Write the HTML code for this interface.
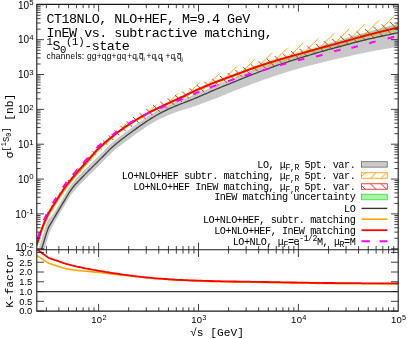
<!DOCTYPE html><html><head><meta charset="utf-8"><title>plot</title><style>html,body{margin:0;padding:0;background:#fff}svg{display:block}.tx{filter:grayscale(1)}text{font-family:"Liberation Mono",monospace;fill:#000}.s{font-family:"Liberation Sans",sans-serif}</style></head><body>
<svg width="407" height="339" viewBox="0 0 407 339">
<rect width="407" height="339" fill="#fff"/>
<defs>
<clipPath id="cm"><rect x="36.8" y="4.4" width="361.4" height="245.4"/></clipPath>
<clipPath id="cr"><rect x="36.8" y="249.8" width="361.4" height="61.30000000000001"/></clipPath>
<path id="ho" d="M-215.10,251.80 L34.30,2.40 M-204.43,251.80 L44.97,2.40 M-193.77,251.80 L55.64,2.40 M-183.10,251.80 L66.30,2.40 M-172.43,251.80 L76.97,2.40 M-161.76,251.80 L87.64,2.40 M-151.10,251.80 L98.30,2.40 M-140.43,251.80 L108.97,2.40 M-129.76,251.80 L119.64,2.40 M-119.10,251.80 L130.30,2.40 M-108.43,251.80 L140.97,2.40 M-97.76,251.80 L151.64,2.40 M-87.09,251.80 L162.31,2.40 M-76.43,251.80 L172.97,2.40 M-65.76,251.80 L183.64,2.40 M-55.09,251.80 L194.31,2.40 M-44.43,251.80 L204.97,2.40 M-33.76,251.80 L215.64,2.40 M-23.09,251.80 L226.31,2.40 M-12.43,251.80 L236.97,2.40 M-1.76,251.80 L247.64,2.40 M8.91,251.80 L258.31,2.40 M19.57,251.80 L268.98,2.40 M30.24,251.80 L279.64,2.40 M40.91,251.80 L290.31,2.40 M51.58,251.80 L300.98,2.40 M62.24,251.80 L311.64,2.40 M72.91,251.80 L322.31,2.40 M83.58,251.80 L332.98,2.40 M94.24,251.80 L343.64,2.40 M104.91,251.80 L354.31,2.40 M115.58,251.80 L364.98,2.40 M126.24,251.80 L375.64,2.40 M136.91,251.80 L386.31,2.40 M147.58,251.80 L396.98,2.40 M158.25,251.80 L407.65,2.40 M168.91,251.80 L418.31,2.40 M179.58,251.80 L428.98,2.40 M190.25,251.80 L439.65,2.40 M200.91,251.80 L450.31,2.40 M211.58,251.80 L460.98,2.40 M222.25,251.80 L471.65,2.40 M232.91,251.80 L482.31,2.40 M243.58,251.80 L492.98,2.40 M254.25,251.80 L503.65,2.40 M264.92,251.80 L514.32,2.40 M275.58,251.80 L524.98,2.40 M286.25,251.80 L535.65,2.40 M296.92,251.80 L546.32,2.40 M307.58,251.80 L556.98,2.40 M318.25,251.80 L567.65,2.40 M328.92,251.80 L578.32,2.40 M339.58,251.80 L588.98,2.40 M350.25,251.80 L599.65,2.40 M360.92,251.80 L610.32,2.40 M371.59,251.80 L620.99,2.40 M382.25,251.80 L631.65,2.40 M392.92,251.80 L642.32,2.40 M403.59,251.80 L652.99,2.40" stroke="#ffa500" stroke-width="0.95" fill="none"/>
<path id="hr" d="M-216.31,2.40 L33.09,251.80 M-205.64,2.40 L43.76,251.80 M-194.97,2.40 L54.43,251.80 M-184.31,2.40 L65.09,251.80 M-173.64,2.40 L75.76,251.80 M-162.97,2.40 L86.43,251.80 M-152.30,2.40 L97.10,251.80 M-141.64,2.40 L107.76,251.80 M-130.97,2.40 L118.43,251.80 M-120.30,2.40 L129.10,251.80 M-109.64,2.40 L139.76,251.80 M-98.97,2.40 L150.43,251.80 M-88.30,2.40 L161.10,251.80 M-77.64,2.40 L171.76,251.80 M-66.97,2.40 L182.43,251.80 M-56.30,2.40 L193.10,251.80 M-45.63,2.40 L203.77,251.80 M-34.97,2.40 L214.43,251.80 M-24.30,2.40 L225.10,251.80 M-13.63,2.40 L235.77,251.80 M-2.97,2.40 L246.43,251.80 M7.70,2.40 L257.10,251.80 M18.37,2.40 L267.77,251.80 M29.03,2.40 L278.43,251.80 M39.70,2.40 L289.10,251.80 M50.37,2.40 L299.77,251.80 M61.04,2.40 L310.44,251.80 M71.70,2.40 L321.10,251.80 M82.37,2.40 L331.77,251.80 M93.04,2.40 L342.44,251.80 M103.70,2.40 L353.10,251.80 M114.37,2.40 L363.77,251.80 M125.04,2.40 L374.44,251.80 M135.70,2.40 L385.10,251.80 M146.37,2.40 L395.77,251.80 M157.04,2.40 L406.44,251.80 M167.71,2.40 L417.11,251.80 M178.37,2.40 L427.77,251.80 M189.04,2.40 L438.44,251.80 M199.71,2.40 L449.11,251.80 M210.37,2.40 L459.77,251.80 M221.04,2.40 L470.44,251.80 M231.71,2.40 L481.11,251.80 M242.37,2.40 L491.77,251.80 M253.04,2.40 L502.44,251.80 M263.71,2.40 L513.11,251.80 M274.38,2.40 L523.78,251.80 M285.04,2.40 L534.44,251.80 M295.71,2.40 L545.11,251.80 M306.38,2.40 L555.78,251.80 M317.04,2.40 L566.44,251.80 M327.71,2.40 L577.11,251.80 M338.38,2.40 L587.78,251.80 M349.04,2.40 L598.44,251.80 M359.71,2.40 L609.11,251.80 M370.38,2.40 L619.78,251.80 M381.04,2.40 L630.44,251.80 M391.71,2.40 L641.11,251.80 M402.38,2.40 L651.78,251.80" stroke="#ff2a2a" stroke-width="1.0" fill="none"/>
<clipPath id="co"><path d="M36.8,243.3 L38.8,236.5 L40.8,230.3 L42.8,224.6 L44.8,219.6 L46.8,215.1 L48.8,211.1 L50.9,207.5 L52.9,204.3 L54.9,201.2 L56.9,198.0 L58.9,194.8 L60.9,191.7 L62.9,188.7 L64.9,185.8 L66.9,183.1 L68.9,180.6 L70.9,178.1 L72.9,175.6 L74.9,173.3 L77.0,170.9 L79.0,168.6 L81.0,166.3 L83.0,164.1 L85.0,161.9 L87.0,159.7 L89.0,157.5 L91.0,155.2 L93.0,152.9 L95.0,150.6 L97.0,148.4 L99.0,146.4 L101.0,144.5 L103.1,142.7 L105.1,140.9 L107.1,139.2 L109.1,137.6 L111.1,135.8 L113.1,134.0 L115.1,132.3 L117.1,130.6 L119.1,128.9 L121.1,127.3 L123.1,125.7 L125.1,124.2 L127.1,122.7 L129.2,121.2 L131.2,119.8 L133.2,118.4 L135.2,117.0 L137.2,115.7 L139.2,114.3 L141.2,113.1 L143.2,111.8 L145.2,110.6 L147.2,109.4 L149.2,108.2 L151.2,107.1 L153.3,106.0 L155.3,104.9 L157.3,103.8 L159.3,102.7 L161.3,101.7 L163.3,100.7 L165.3,99.6 L167.3,98.6 L169.3,97.6 L171.3,96.6 L173.3,95.6 L175.3,94.6 L177.3,93.6 L179.4,92.6 L181.4,91.5 L183.4,90.5 L185.4,89.5 L187.4,88.5 L189.4,87.4 L191.4,86.4 L193.4,85.4 L195.4,84.4 L197.4,83.4 L199.4,82.4 L201.4,81.5 L203.4,80.5 L205.5,79.6 L207.5,78.7 L209.5,77.8 L211.5,76.9 L213.5,76.0 L215.5,75.2 L217.5,74.3 L219.5,73.5 L221.5,72.6 L223.5,71.8 L225.5,71.0 L227.5,70.2 L229.5,69.4 L231.6,68.5 L233.6,67.7 L235.6,66.9 L237.6,66.1 L239.6,65.3 L241.6,64.4 L243.6,63.6 L245.6,62.8 L247.6,62.0 L249.6,61.2 L251.6,60.4 L253.6,59.6 L255.6,58.9 L257.7,58.1 L259.7,57.3 L261.7,56.6 L263.7,55.9 L265.7,55.1 L267.7,54.4 L269.7,53.7 L271.7,53.0 L273.7,52.3 L275.7,51.7 L277.7,51.0 L279.7,50.3 L281.7,49.7 L283.8,49.0 L285.8,48.4 L287.8,47.8 L289.8,47.1 L291.8,46.5 L293.8,45.9 L295.8,45.3 L297.8,44.6 L299.8,44.0 L301.8,43.4 L303.8,42.8 L305.8,42.2 L307.9,41.5 L309.9,40.9 L311.9,40.3 L313.9,39.7 L315.9,39.0 L317.9,38.4 L319.9,37.8 L321.9,37.2 L323.9,36.6 L325.9,36.0 L327.9,35.4 L329.9,34.8 L331.9,34.2 L334.0,33.6 L336.0,33.0 L338.0,32.4 L340.0,31.8 L342.0,31.2 L344.0,30.6 L346.0,30.0 L348.0,29.4 L350.0,28.8 L352.0,28.1 L354.0,27.5 L356.0,26.9 L358.0,26.3 L360.1,25.7 L362.1,25.1 L364.1,24.5 L366.1,23.9 L368.1,23.3 L370.1,22.7 L372.1,22.1 L374.1,21.5 L376.1,21.0 L378.1,20.4 L380.1,19.9 L382.1,19.3 L384.1,18.8 L386.2,18.2 L388.2,17.7 L390.2,17.2 L392.2,16.7 L394.2,16.2 L396.2,15.6 L398.2,15.1 L398.2,32.5 L396.2,32.9 L394.2,33.4 L392.2,33.8 L390.2,34.3 L388.2,34.7 L386.2,35.2 L384.1,35.7 L382.1,36.1 L380.1,36.6 L378.1,37.1 L376.1,37.6 L374.1,38.1 L372.1,38.6 L370.1,39.1 L368.1,39.6 L366.1,40.1 L364.1,40.6 L362.1,41.2 L360.1,41.7 L358.0,42.2 L356.0,42.8 L354.0,43.3 L352.0,43.9 L350.0,44.4 L348.0,45.0 L346.0,45.5 L344.0,46.1 L342.0,46.6 L340.0,47.1 L338.0,47.7 L336.0,48.2 L334.0,48.7 L331.9,49.2 L329.9,49.8 L327.9,50.3 L325.9,50.8 L323.9,51.3 L321.9,51.8 L319.9,52.4 L317.9,52.9 L315.9,53.4 L313.9,54.0 L311.9,54.5 L309.9,55.1 L307.9,55.6 L305.8,56.2 L303.8,56.7 L301.8,57.3 L299.8,57.8 L297.8,58.3 L295.8,58.9 L293.8,59.4 L291.8,60.0 L289.8,60.5 L287.8,61.1 L285.8,61.6 L283.8,62.2 L281.7,62.8 L279.7,63.3 L277.7,63.9 L275.7,64.5 L273.7,65.1 L271.7,65.7 L269.7,66.3 L267.7,66.9 L265.7,67.6 L263.7,68.2 L261.7,68.9 L259.7,69.5 L257.7,70.2 L255.6,70.9 L253.6,71.6 L251.6,72.3 L249.6,73.0 L247.6,73.7 L245.6,74.4 L243.6,75.1 L241.6,75.8 L239.6,76.6 L237.6,77.3 L235.6,78.0 L233.6,78.8 L231.6,79.5 L229.5,80.2 L227.5,81.0 L225.5,81.7 L223.5,82.4 L221.5,83.2 L219.5,83.9 L217.5,84.6 L215.5,85.4 L213.5,86.2 L211.5,86.9 L209.5,87.7 L207.5,88.5 L205.5,89.4 L203.4,90.2 L201.4,91.0 L199.4,91.9 L197.4,92.8 L195.4,93.7 L193.4,94.6 L191.4,95.5 L189.4,96.4 L187.4,97.3 L185.4,98.3 L183.4,99.2 L181.4,100.1 L179.4,101.0 L177.3,101.9 L175.3,102.9 L173.3,103.8 L171.3,104.7 L169.3,105.6 L167.3,106.5 L165.3,107.4 L163.3,108.3 L161.3,109.2 L159.3,110.1 L157.3,111.1 L155.3,112.0 L153.3,113.0 L151.2,114.0 L149.2,115.0 L147.2,116.0 L145.2,117.1 L143.2,118.2 L141.2,119.3 L139.2,120.5 L137.2,121.7 L135.2,122.9 L133.2,124.1 L131.2,125.4 L129.2,126.7 L127.1,128.0 L125.1,129.4 L123.1,130.8 L121.1,132.2 L119.1,133.6 L117.1,135.1 L115.1,136.6 L113.1,138.1 L111.1,139.7 L109.1,141.3 L107.1,142.9 L105.1,144.6 L103.1,146.3 L101.0,148.1 L99.0,150.0 L97.0,152.0 L95.0,154.2 L93.0,156.4 L91.0,158.7 L89.0,161.0 L87.0,163.2 L85.0,165.4 L83.0,167.5 L81.0,169.8 L79.0,172.0 L77.0,174.3 L74.9,176.6 L72.9,179.0 L70.9,181.4 L68.9,183.9 L66.9,186.4 L64.9,189.1 L62.9,191.9 L60.9,194.9 L58.9,198.1 L56.9,201.2 L54.9,204.4 L52.9,207.5 L50.9,210.7 L48.8,214.2 L46.8,218.2 L44.8,222.6 L42.8,227.7 L40.8,233.3 L38.8,239.5 L36.8,246.3Z"/></clipPath>
<clipPath id="cd"><path d="M36.8,241.6 L38.8,234.8 L40.8,228.5 L42.8,222.9 L44.8,217.8 L46.8,213.3 L48.8,209.3 L50.9,205.7 L52.9,202.5 L54.9,199.3 L56.9,196.1 L58.9,192.9 L60.9,189.7 L62.9,186.7 L64.9,183.8 L66.9,181.1 L68.9,178.5 L70.9,176.0 L72.9,173.5 L74.9,171.2 L77.0,168.8 L79.0,166.5 L81.0,164.1 L83.0,161.9 L85.0,159.7 L87.0,157.5 L89.0,155.2 L91.0,152.9 L93.0,150.5 L95.0,148.2 L97.0,146.0 L99.0,144.0 L101.0,142.0 L103.1,140.2 L105.1,138.4 L107.1,136.6 L109.1,134.9 L111.1,133.2 L113.1,131.6 L115.1,130.0 L117.1,128.4 L119.1,126.8 L121.1,125.3 L123.1,123.8 L125.1,122.4 L127.1,120.9 L129.2,119.5 L131.2,118.2 L133.2,116.8 L135.2,115.5 L137.2,114.2 L139.2,112.9 L141.2,111.7 L143.2,110.5 L145.2,109.3 L147.2,108.2 L149.2,107.0 L151.2,106.0 L153.3,105.0 L155.3,104.0 L157.3,103.0 L159.3,102.1 L161.3,101.2 L163.3,100.3 L165.3,99.3 L167.3,98.4 L169.3,97.5 L171.3,96.6 L173.3,95.7 L175.3,94.8 L177.3,93.9 L179.4,93.0 L181.4,92.1 L183.4,91.1 L185.4,90.2 L187.4,89.3 L189.4,88.4 L191.4,87.4 L193.4,86.5 L195.4,85.6 L197.4,84.7 L199.4,83.8 L201.4,83.0 L203.4,82.1 L205.5,81.3 L207.5,80.5 L209.5,79.7 L211.5,78.9 L213.5,78.1 L215.5,77.3 L217.5,76.6 L219.5,75.8 L221.5,75.1 L223.5,74.4 L225.5,73.7 L227.5,72.9 L229.5,72.2 L231.6,71.5 L233.6,70.7 L235.6,70.0 L237.6,69.2 L239.6,68.5 L241.6,67.7 L243.6,66.9 L245.6,66.2 L247.6,65.4 L249.6,64.7 L251.6,63.9 L253.6,63.2 L255.6,62.5 L257.7,61.7 L259.7,61.0 L261.7,60.3 L263.7,59.6 L265.7,59.0 L267.7,58.3 L269.7,57.6 L271.7,57.0 L273.7,56.3 L275.7,55.7 L277.7,55.1 L279.7,54.5 L281.7,53.9 L283.8,53.3 L285.8,52.7 L287.8,52.1 L289.8,51.5 L291.8,50.9 L293.8,50.3 L295.8,49.7 L297.8,49.1 L299.8,48.6 L301.8,48.0 L303.8,47.3 L305.8,46.7 L307.9,46.1 L309.9,45.5 L311.9,44.9 L313.9,44.3 L315.9,43.7 L317.9,43.1 L319.9,42.5 L321.9,41.9 L323.9,41.3 L325.9,40.7 L327.9,40.1 L329.9,39.5 L331.9,38.9 L334.0,38.3 L336.0,37.7 L338.0,37.2 L340.0,36.6 L342.0,36.0 L344.0,35.4 L346.0,34.7 L348.0,34.1 L350.0,33.5 L352.0,32.9 L354.0,32.3 L356.0,31.7 L358.0,31.1 L360.1,30.5 L362.1,29.8 L364.1,29.2 L366.1,28.7 L368.1,28.1 L370.1,27.5 L372.1,26.9 L374.1,26.4 L376.1,25.8 L378.1,25.2 L380.1,24.7 L382.1,24.2 L384.1,23.6 L386.2,23.1 L388.2,22.6 L390.2,22.0 L392.2,21.5 L394.2,21.0 L396.2,20.5 L398.2,20.0 L398.2,32.7 L396.2,33.2 L394.2,33.6 L392.2,34.1 L390.2,34.6 L388.2,35.0 L386.2,35.5 L384.1,36.0 L382.1,36.5 L380.1,37.0 L378.1,37.5 L376.1,38.0 L374.1,38.5 L372.1,39.0 L370.1,39.5 L368.1,40.0 L366.1,40.6 L364.1,41.1 L362.1,41.7 L360.1,42.2 L358.0,42.8 L356.0,43.3 L354.0,43.9 L352.0,44.5 L350.0,45.0 L348.0,45.6 L346.0,46.2 L344.0,46.7 L342.0,47.3 L340.0,47.8 L338.0,48.4 L336.0,48.9 L334.0,49.5 L331.9,50.0 L329.9,50.5 L327.9,51.1 L325.9,51.6 L323.9,52.1 L321.9,52.7 L319.9,53.2 L317.9,53.8 L315.9,54.3 L313.9,54.9 L311.9,55.5 L309.9,56.0 L307.9,56.6 L305.8,57.1 L303.8,57.7 L301.8,58.3 L299.8,58.8 L297.8,59.4 L295.8,60.0 L293.8,60.5 L291.8,61.1 L289.8,61.6 L287.8,62.2 L285.8,62.8 L283.8,63.4 L281.7,63.9 L279.7,64.5 L277.7,65.1 L275.7,65.7 L273.7,66.3 L271.7,67.0 L269.7,67.6 L267.7,68.2 L265.7,68.9 L263.7,69.5 L261.7,70.2 L259.7,70.9 L257.7,71.6 L255.6,72.3 L253.6,73.0 L251.6,73.7 L249.6,74.4 L247.6,75.1 L245.6,75.9 L243.6,76.6 L241.6,77.4 L239.6,78.1 L237.6,78.9 L235.6,79.6 L233.6,80.3 L231.6,81.1 L229.5,81.8 L227.5,82.6 L225.5,83.3 L223.5,84.0 L221.5,84.8 L219.5,85.5 L217.5,86.3 L215.5,87.1 L213.5,87.8 L211.5,88.6 L209.5,89.4 L207.5,90.2 L205.5,91.1 L203.4,91.9 L201.4,92.8 L199.4,93.7 L197.4,94.6 L195.4,95.5 L193.4,96.4 L191.4,97.3 L189.4,98.2 L187.4,99.2 L185.4,100.1 L183.4,101.0 L181.4,102.0 L179.4,102.9 L177.3,103.8 L175.3,104.7 L173.3,105.6 L171.3,106.6 L169.3,107.5 L167.3,108.4 L165.3,109.3 L163.3,110.2 L161.3,111.1 L159.3,112.1 L157.3,113.0 L155.3,114.0 L153.3,115.0 L151.2,116.0 L149.2,117.0 L147.2,118.0 L145.2,119.1 L143.2,120.2 L141.2,121.3 L139.2,122.5 L137.2,123.6 L135.2,124.8 L133.2,126.1 L131.2,127.3 L129.2,128.6 L127.1,129.9 L125.1,131.3 L123.1,132.6 L121.1,134.0 L119.1,135.5 L117.1,137.0 L115.1,138.5 L113.1,140.0 L111.1,141.5 L109.1,143.1 L107.1,144.7 L105.1,146.4 L103.1,148.1 L101.0,149.9 L99.0,151.8 L97.0,153.8 L95.0,155.9 L93.0,158.2 L91.0,160.5 L89.0,162.7 L87.0,165.0 L85.0,167.1 L83.0,169.3 L81.0,171.5 L79.0,173.8 L77.0,176.1 L74.9,178.4 L72.9,180.7 L70.9,183.1 L68.9,185.6 L66.9,188.2 L64.9,190.8 L62.9,193.6 L60.9,196.7 L58.9,199.8 L56.9,203.0 L54.9,206.1 L52.9,209.2 L50.9,212.4 L48.8,216.0 L46.8,219.9 L44.8,224.4 L42.8,229.4 L40.8,235.0 L38.8,241.2 L36.8,248.0Z"/></clipPath>
</defs>
<g clip-path="url(#cm)">
<path d="M36.8,255.0 L38.8,248.6 L40.8,242.1 L42.8,235.6 L44.8,229.1 L46.8,222.6 L48.8,219.1 L50.9,217.1 L52.9,214.2 L54.9,211.4 L56.9,208.1 L58.9,204.7 L60.9,201.4 L62.9,198.0 L64.9,194.7 L66.9,191.4 L68.9,188.2 L70.9,185.1 L72.9,182.5 L74.9,180.0 L77.0,177.8 L79.0,175.7 L81.0,173.7 L83.0,171.6 L85.0,169.6 L87.0,167.6 L89.0,165.6 L91.0,163.6 L93.0,161.7 L95.0,159.8 L97.0,157.8 L99.0,155.8 L101.0,153.8 L103.1,151.7 L105.1,149.6 L107.1,147.6 L109.1,145.6 L111.1,143.7 L113.1,141.9 L115.1,140.2 L117.1,138.6 L119.1,137.0 L121.1,135.5 L123.1,133.9 L125.1,132.4 L127.1,130.9 L129.2,129.5 L131.2,128.0 L133.2,126.6 L135.2,125.1 L137.2,123.7 L139.2,122.3 L141.2,121.0 L143.2,119.6 L145.2,118.3 L147.2,116.9 L149.2,115.6 L151.2,114.4 L153.3,113.2 L155.3,112.0 L157.3,110.8 L159.3,109.7 L161.3,108.6 L163.3,107.6 L165.3,106.7 L167.3,105.7 L169.3,104.8 L171.3,104.0 L173.3,103.1 L175.3,102.3 L177.3,101.5 L179.4,100.7 L181.4,99.9 L183.4,99.1 L185.4,98.3 L187.4,97.5 L189.4,96.7 L191.4,95.9 L193.4,95.1 L195.4,94.2 L197.4,93.4 L199.4,92.5 L201.4,91.6 L203.4,90.8 L205.5,89.9 L207.5,89.0 L209.5,88.1 L211.5,87.2 L213.5,86.4 L215.5,85.5 L217.5,84.7 L219.5,83.8 L221.5,83.0 L223.5,82.1 L225.5,81.3 L227.5,80.5 L229.5,79.7 L231.6,78.8 L233.6,78.0 L235.6,77.2 L237.6,76.3 L239.6,75.5 L241.6,74.7 L243.6,73.8 L245.6,73.0 L247.6,72.2 L249.6,71.4 L251.6,70.6 L253.6,69.8 L255.6,69.0 L257.7,68.2 L259.7,67.5 L261.7,66.7 L263.7,65.9 L265.7,65.2 L267.7,64.4 L269.7,63.7 L271.7,63.0 L273.7,62.3 L275.7,61.5 L277.7,60.8 L279.7,60.1 L281.7,59.5 L283.8,58.8 L285.8,58.1 L287.8,57.4 L289.8,56.8 L291.8,56.1 L293.8,55.5 L295.8,54.8 L297.8,54.2 L299.8,53.5 L301.8,52.8 L303.8,52.1 L305.8,51.4 L307.9,50.7 L309.9,50.1 L311.9,49.4 L313.9,48.7 L315.9,48.0 L317.9,47.4 L319.9,46.7 L321.9,46.0 L323.9,45.4 L325.9,44.7 L327.9,44.1 L329.9,43.4 L331.9,42.8 L334.0,42.2 L336.0,41.5 L338.0,40.9 L340.0,40.3 L342.0,39.7 L344.0,39.0 L346.0,38.4 L348.0,37.8 L350.0,37.2 L352.0,36.6 L354.0,36.0 L356.0,35.4 L358.0,34.8 L360.1,34.2 L362.1,33.6 L364.1,33.1 L366.1,32.5 L368.1,31.9 L370.1,31.4 L372.1,30.8 L374.1,30.3 L376.1,29.7 L378.1,29.2 L380.1,28.7 L382.1,28.2 L384.1,27.7 L386.2,27.1 L388.2,26.6 L390.2,26.1 L392.2,25.6 L394.2,25.2 L396.2,24.7 L398.2,24.2 L398.2,46.7 L396.2,47.1 L394.2,47.4 L392.2,47.7 L390.2,48.1 L388.2,48.4 L386.2,48.7 L384.1,49.1 L382.1,49.4 L380.1,49.8 L378.1,50.2 L376.1,50.5 L374.1,50.9 L372.1,51.3 L370.1,51.7 L368.1,52.1 L366.1,52.5 L364.1,52.9 L362.1,53.3 L360.1,53.7 L358.0,54.1 L356.0,54.6 L354.0,55.0 L352.0,55.5 L350.0,55.9 L348.0,56.4 L346.0,56.8 L344.0,57.3 L342.0,57.7 L340.0,58.2 L338.0,58.6 L336.0,59.1 L334.0,59.6 L331.9,60.1 L329.9,60.5 L327.9,61.0 L325.9,61.5 L323.9,62.0 L321.9,62.5 L319.9,63.0 L317.9,63.5 L315.9,64.0 L313.9,64.5 L311.9,65.0 L309.9,65.6 L307.9,66.1 L305.8,66.6 L303.8,67.1 L301.8,67.7 L299.8,68.2 L297.8,68.8 L295.8,69.4 L293.8,70.0 L291.8,70.6 L289.8,71.2 L287.8,71.8 L285.8,72.5 L283.8,73.1 L281.7,73.7 L279.7,74.4 L277.7,75.0 L275.7,75.7 L273.7,76.3 L271.7,77.0 L269.7,77.7 L267.7,78.4 L265.7,79.1 L263.7,79.8 L261.7,80.5 L259.7,81.2 L257.7,81.9 L255.6,82.7 L253.6,83.4 L251.6,84.1 L249.6,84.9 L247.6,85.7 L245.6,86.4 L243.6,87.2 L241.6,88.0 L239.6,88.7 L237.6,89.5 L235.6,90.3 L233.6,91.1 L231.6,91.9 L229.5,92.8 L227.5,93.6 L225.5,94.4 L223.5,95.2 L221.5,96.0 L219.5,96.9 L217.5,97.7 L215.5,98.5 L213.5,99.3 L211.5,100.0 L209.5,100.8 L207.5,101.5 L205.5,102.3 L203.4,103.0 L201.4,103.8 L199.4,104.5 L197.4,105.2 L195.4,105.9 L193.4,106.6 L191.4,107.3 L189.4,107.9 L187.4,108.6 L185.4,109.2 L183.4,109.8 L181.4,110.4 L179.4,111.1 L177.3,111.8 L175.3,112.5 L173.3,113.2 L171.3,114.0 L169.3,114.8 L167.3,115.6 L165.3,116.5 L163.3,117.4 L161.3,118.3 L159.3,119.3 L157.3,120.3 L155.3,121.4 L153.3,122.5 L151.2,123.7 L149.2,124.9 L147.2,126.2 L145.2,127.6 L143.2,128.9 L141.2,130.3 L139.2,131.7 L137.2,133.1 L135.2,134.5 L133.2,135.9 L131.2,137.4 L129.2,138.9 L127.1,140.4 L125.1,141.9 L123.1,143.4 L121.1,144.9 L119.1,146.5 L117.1,148.1 L115.1,149.7 L113.1,151.5 L111.1,153.3 L109.1,155.2 L107.1,157.1 L105.1,159.2 L103.1,161.3 L101.0,163.4 L99.0,165.4 L97.0,167.5 L95.0,169.4 L93.0,171.4 L91.0,173.4 L89.0,175.3 L87.0,177.4 L85.0,179.4 L83.0,181.5 L81.0,183.5 L79.0,185.6 L77.0,187.7 L74.9,190.0 L72.9,192.4 L70.9,195.1 L68.9,198.2 L66.9,201.5 L64.9,204.9 L62.9,208.2 L60.9,211.6 L58.9,215.0 L56.9,218.4 L54.9,221.8 L52.9,225.8 L50.9,229.7 L48.8,234.4 L46.8,241.6 L44.8,248.3 L42.8,255.0 L40.8,261.7 L38.8,268.4 L36.8,275.0Z" fill="#c8c8c8"/>
<path d="M36.8,244.0 L38.8,237.2 L40.8,230.9 L42.8,225.3 L44.8,220.2 L46.8,215.7 L48.8,211.7 L50.9,208.1 L52.9,204.9 L54.9,201.8 L56.9,198.6 L58.9,195.4 L60.9,192.2 L62.9,189.2 L64.9,186.3 L66.9,183.6 L68.9,181.0 L70.9,178.5 L72.9,176.1 L74.9,173.7 L77.0,171.4 L79.0,169.0 L81.0,166.7 L83.0,164.5 L85.0,162.3 L87.0,160.1 L89.0,157.8 L91.0,155.5 L93.0,153.2 L95.0,150.9 L97.0,148.7 L99.0,146.6 L101.0,144.7 L103.1,142.9 L105.1,141.1 L107.1,139.4 L109.1,137.8 L111.1,136.2 L113.1,134.6 L115.1,133.0 L117.1,131.5 L119.1,129.9 L121.1,128.5 L123.1,127.0 L125.1,125.6 L127.1,124.2 L129.2,122.9 L131.2,121.5 L133.2,120.2 L135.2,119.0 L137.2,117.7 L139.2,116.5 L141.2,115.3 L143.2,114.2 L145.2,113.0 L147.2,111.9 L149.2,110.8 L151.2,109.8 L153.3,108.8 L155.3,107.7 L157.3,106.8 L159.3,105.8 L161.3,104.8 L163.3,103.9 L165.3,102.9 L167.3,102.0 L169.3,101.1 L171.3,100.1 L173.3,99.2 L175.3,98.3 L177.3,97.3 L179.4,96.4 L181.4,95.4 L183.4,94.5 L185.4,93.5 L187.4,92.5 L189.4,91.6 L191.4,90.6 L193.4,89.7 L195.4,88.8 L197.4,87.8 L199.4,86.9 L201.4,86.0 L203.4,85.1 L205.5,84.3 L207.5,83.4 L209.5,82.6 L211.5,81.7 L213.5,80.9 L215.5,80.1 L217.5,79.3 L219.5,78.6 L221.5,77.8 L223.5,77.0 L225.5,76.3 L227.5,75.5 L229.5,74.7 L231.6,74.0 L233.6,73.2 L235.6,72.4 L237.6,71.7 L239.6,70.9 L241.6,70.1 L243.6,69.4 L245.6,68.6 L247.6,67.9 L249.6,67.1 L251.6,66.4 L253.6,65.7 L255.6,64.9 L257.7,64.2 L259.7,63.5 L261.7,62.8 L263.7,62.1 L265.7,61.5 L267.7,60.8 L269.7,60.1 L271.7,59.5 L273.7,58.9 L275.7,58.2 L277.7,57.6 L279.7,57.0 L281.7,56.4 L283.8,55.8 L285.8,55.2 L287.8,54.6 L289.8,54.0 L291.8,53.4 L293.8,52.9 L295.8,52.3 L297.8,51.7 L299.8,51.1 L301.8,50.6 L303.8,50.0 L305.8,49.4 L307.9,48.8 L309.9,48.2 L311.9,47.7 L313.9,47.1 L315.9,46.5 L317.9,45.9 L319.9,45.4 L321.9,44.8 L323.9,44.3 L325.9,43.7 L327.9,43.1 L329.9,42.6 L331.9,42.0 L334.0,41.5 L336.0,40.9 L338.0,40.4 L340.0,39.8 L342.0,39.2 L344.0,38.7 L346.0,38.1 L348.0,37.5 L350.0,36.9 L352.0,36.3 L354.0,35.8 L356.0,35.2 L358.0,34.6 L360.1,34.0 L362.1,33.5 L364.1,32.9 L366.1,32.3 L368.1,31.8 L370.1,31.2 L372.1,30.7 L374.1,30.2 L376.1,29.6 L378.1,29.1 L380.1,28.6 L382.1,28.1 L384.1,27.6 L386.2,27.1 L388.2,26.6 L390.2,26.1 L392.2,25.6 L394.2,25.2 L396.2,24.7 L398.2,24.2 L398.2,30.8 L396.2,31.3 L394.2,31.7 L392.2,32.2 L390.2,32.6 L388.2,33.1 L386.2,33.5 L384.1,34.0 L382.1,34.5 L380.1,35.0 L378.1,35.4 L376.1,35.9 L374.1,36.4 L372.1,36.9 L370.1,37.4 L368.1,38.0 L366.1,38.5 L364.1,39.0 L362.1,39.6 L360.1,40.1 L358.0,40.7 L356.0,41.2 L354.0,41.8 L352.0,42.3 L350.0,42.9 L348.0,43.4 L346.0,44.0 L344.0,44.5 L342.0,45.1 L340.0,45.6 L338.0,46.1 L336.0,46.7 L334.0,47.2 L331.9,47.7 L329.9,48.2 L327.9,48.8 L325.9,49.3 L323.9,49.8 L321.9,50.4 L319.9,50.9 L317.9,51.4 L315.9,52.0 L313.9,52.5 L311.9,53.1 L309.9,53.6 L307.9,54.2 L305.8,54.7 L303.8,55.3 L301.8,55.8 L299.8,56.4 L297.8,56.9 L295.8,57.5 L293.8,58.0 L291.8,58.6 L289.8,59.1 L287.8,59.7 L285.8,60.2 L283.8,60.8 L281.7,61.4 L279.7,62.0 L277.7,62.5 L275.7,63.1 L273.7,63.7 L271.7,64.3 L269.7,65.0 L267.7,65.6 L265.7,66.2 L263.7,66.9 L261.7,67.5 L259.7,68.2 L257.7,68.9 L255.6,69.6 L253.6,70.3 L251.6,71.0 L249.6,71.7 L247.6,72.4 L245.6,73.1 L243.6,73.8 L241.6,74.6 L239.6,75.3 L237.6,76.1 L235.6,76.8 L233.6,77.5 L231.6,78.3 L229.5,79.0 L227.5,79.7 L225.5,80.5 L223.5,81.2 L221.5,81.9 L219.5,82.7 L217.5,83.4 L215.5,84.2 L213.5,85.0 L211.5,85.7 L209.5,86.5 L207.5,87.4 L205.5,88.2 L203.4,89.0 L201.4,89.9 L199.4,90.8 L197.4,91.7 L195.4,92.6 L193.4,93.5 L191.4,94.4 L189.4,95.3 L187.4,96.2 L185.4,97.2 L183.4,98.1 L181.4,99.0 L179.4,99.9 L177.3,100.9 L175.3,101.8 L173.3,102.7 L171.3,103.6 L169.3,104.5 L167.3,105.4 L165.3,106.3 L163.3,107.2 L161.3,108.1 L159.3,109.1 L157.3,110.0 L155.3,111.0 L153.3,112.0 L151.2,113.0 L149.2,114.0 L147.2,115.0 L145.2,116.1 L143.2,117.2 L141.2,118.4 L139.2,119.5 L137.2,120.7 L135.2,121.9 L133.2,123.2 L131.2,124.4 L129.2,125.7 L127.1,127.1 L125.1,128.4 L123.1,129.8 L121.1,131.2 L119.1,132.7 L117.1,134.2 L115.1,135.7 L113.1,137.2 L111.1,138.8 L109.1,140.4 L107.1,142.0 L105.1,143.7 L103.1,145.4 L101.0,147.2 L99.0,149.1 L97.0,151.1 L95.0,153.3 L93.0,155.5 L91.0,157.8 L89.0,160.1 L87.0,162.4 L85.0,164.5 L83.0,166.7 L81.0,168.9 L79.0,171.2 L77.0,173.5 L74.9,175.8 L72.9,178.2 L70.9,180.6 L68.9,183.1 L66.9,185.6 L64.9,188.3 L62.9,191.1 L60.9,194.2 L58.9,197.3 L56.9,200.5 L54.9,203.7 L52.9,206.7 L50.9,209.9 L48.8,213.5 L46.8,217.5 L44.8,221.9 L42.8,227.0 L40.8,232.6 L38.8,238.8 L36.8,245.6Z" fill="#40e040" fill-opacity="0.3"/>
<g clip-path="url(#co)"><use href="#ho"/></g>
<g clip-path="url(#cd)"><use href="#hr"/></g>
<path d="M36.8,265.0 L38.8,258.5 L40.8,251.9 L42.8,245.3 L44.8,238.7 L46.8,232.1 L48.8,226.8 L50.9,223.4 L52.9,220.0 L54.9,216.6 L56.9,213.2 L58.9,209.9 L60.9,206.5 L62.9,203.1 L64.9,199.8 L66.9,196.5 L68.9,193.2 L70.9,190.1 L72.9,187.4 L74.9,185.0 L77.0,182.7 L79.0,180.6 L81.0,178.5 L83.0,176.5 L85.0,174.4 L87.0,172.4 L89.0,170.3 L91.0,168.4 L93.0,166.4 L95.0,164.4 L97.0,162.5 L99.0,160.4 L101.0,158.4 L103.1,156.3 L105.1,154.2 L107.1,152.1 L109.1,150.1 L111.1,148.2 L113.1,146.4 L115.1,144.7 L117.1,143.0 L119.1,141.4 L121.1,139.8 L123.1,138.3 L125.1,136.8 L127.1,135.2 L129.2,133.7 L131.2,132.3 L133.2,130.8 L135.2,129.4 L137.2,127.9 L139.2,126.5 L141.2,125.1 L143.2,123.7 L145.2,122.4 L147.2,121.0 L149.2,119.7 L151.2,118.4 L153.3,117.2 L155.3,116.0 L157.3,114.8 L159.3,113.7 L161.3,112.6 L163.3,111.6 L165.3,110.6 L167.3,109.6 L169.3,108.7 L171.3,107.8 L173.3,107.0 L175.3,106.1 L177.3,105.3 L179.4,104.5 L181.4,103.7 L183.4,103.0 L185.4,102.2 L187.4,101.4 L189.4,100.6 L191.4,99.8 L193.4,99.0 L195.4,98.1 L197.4,97.3 L199.4,96.4 L201.4,95.6 L203.4,94.7 L205.5,93.8 L207.5,93.0 L209.5,92.1 L211.5,91.2 L213.5,90.4 L215.5,89.5 L217.5,88.7 L219.5,87.9 L221.5,87.0 L223.5,86.2 L225.5,85.4 L227.5,84.6 L229.5,83.8 L231.6,82.9 L233.6,82.1 L235.6,81.3 L237.6,80.5 L239.6,79.7 L241.6,78.8 L243.6,78.0 L245.6,77.2 L247.6,76.4 L249.6,75.6 L251.6,74.8 L253.6,74.0 L255.6,73.3 L257.7,72.5 L259.7,71.7 L261.7,71.0 L263.7,70.2 L265.7,69.5 L267.7,68.8 L269.7,68.0 L271.7,67.3 L273.7,66.6 L275.7,65.9 L277.7,65.2 L279.7,64.5 L281.7,63.8 L283.8,63.2 L285.8,62.5 L287.8,61.9 L289.8,61.2 L291.8,60.6 L293.8,59.9 L295.8,59.3 L297.8,58.7 L299.8,58.0 L301.8,57.4 L303.8,56.8 L305.8,56.2 L307.9,55.6 L309.9,55.0 L311.9,54.4 L313.9,53.8 L315.9,53.2 L317.9,52.6 L319.9,52.0 L321.9,51.4 L323.9,50.9 L325.9,50.3 L327.9,49.7 L329.9,49.2 L331.9,48.6 L334.0,48.1 L336.0,47.5 L338.0,47.0 L340.0,46.4 L342.0,45.9 L344.0,45.3 L346.0,44.8 L348.0,44.3 L350.0,43.8 L352.0,43.2 L354.0,42.7 L356.0,42.2 L358.0,41.7 L360.1,41.2 L362.1,40.7 L364.1,40.2 L366.1,39.7 L368.1,39.2 L370.1,38.7 L372.1,38.3 L374.1,37.8 L376.1,37.4 L378.1,36.9 L380.1,36.5 L382.1,36.0 L384.1,35.6 L386.2,35.2 L388.2,34.8 L390.2,34.3 L392.2,33.9 L394.2,33.5 L396.2,33.1 L398.2,32.7" fill="none" stroke="#404040" stroke-width="1.3"/>
<path d="M36.8,245.1 L38.8,238.9 L40.8,233.3 L42.8,228.0 L44.8,223.0 L46.8,218.5 L48.8,214.5 L50.9,210.9 L52.9,207.7 L54.9,204.6 L56.9,201.4 L58.9,198.2 L60.9,195.1 L62.9,192.0 L64.9,189.2 L66.9,186.5 L68.9,183.9 L70.9,181.4 L72.9,178.9 L74.9,176.5 L77.0,174.2 L79.0,171.8 L81.0,169.5 L83.0,167.3 L85.0,165.1 L87.0,162.8 L89.0,160.6 L91.0,158.2 L93.0,155.8 L95.0,153.5 L97.0,151.2 L99.0,149.1 L101.0,147.1 L103.1,145.2 L105.1,143.4 L107.1,141.6 L109.1,139.9 L111.1,138.2 L113.1,136.5 L115.1,134.8 L117.1,133.2 L119.1,131.6 L121.1,130.2 L123.1,128.7 L125.1,127.3 L127.1,126.0 L129.2,124.6 L131.2,123.3 L133.2,122.0 L135.2,120.7 L137.2,119.5 L139.2,118.3 L141.2,117.1 L143.2,116.0 L145.2,114.9 L147.2,113.8 L149.2,112.7 L151.2,111.7 L153.3,110.7 L155.3,109.7 L157.3,108.7 L159.3,107.7 L161.3,106.8 L163.3,105.8 L165.3,104.9 L167.3,104.0 L169.3,103.1 L171.3,102.2 L173.3,101.2 L175.3,100.3 L177.3,99.4 L179.4,98.5 L181.4,97.5 L183.4,96.6 L185.4,95.6 L187.4,94.7 L189.4,93.7 L191.4,92.8 L193.4,91.9 L195.4,91.0 L197.4,90.0 L199.4,89.1 L201.4,88.3 L203.4,87.4 L205.5,86.5 L207.5,85.7 L209.5,84.8 L211.5,84.0 L213.5,83.2 L215.5,82.5 L217.5,81.7 L219.5,80.9 L221.5,80.2 L223.5,79.4 L225.5,78.7 L227.5,77.9 L229.5,77.2 L231.6,76.4 L233.6,75.7 L235.6,74.9 L237.6,74.2 L239.6,73.4 L241.6,72.7 L243.6,71.9 L245.6,71.2 L247.6,70.4 L249.6,69.7 L251.6,69.0 L253.6,68.3 L255.6,67.5 L257.7,66.8 L259.7,66.2 L261.7,65.5 L263.7,64.8 L265.7,64.1 L267.7,63.5 L269.7,62.8 L271.7,62.2 L273.7,61.6 L275.7,61.0 L277.7,60.4 L279.7,59.8 L281.7,59.2 L283.8,58.6 L285.8,58.0 L287.8,57.4 L289.8,56.9 L291.8,56.3 L293.8,55.7 L295.8,55.2 L297.8,54.6 L299.8,54.1 L301.8,53.5 L303.8,52.9 L305.8,52.4 L307.9,51.8 L309.9,51.2 L311.9,50.7 L313.9,50.1 L315.9,49.5 L317.9,49.0 L319.9,48.4 L321.9,47.9 L323.9,47.3 L325.9,46.8 L327.9,46.3 L329.9,45.7 L331.9,45.2 L334.0,44.6 L336.0,44.1 L338.0,43.5 L340.0,43.0 L342.0,42.4 L344.0,41.9 L346.0,41.3 L348.0,40.8 L350.0,40.2 L352.0,39.6 L354.0,39.1 L356.0,38.5 L358.0,37.9 L360.1,37.4 L362.1,36.8 L364.1,36.3 L366.1,35.7 L368.1,35.2 L370.1,34.6 L372.1,34.1 L374.1,33.6 L376.1,33.1 L378.1,32.6 L380.1,32.1 L382.1,31.6 L384.1,31.1 L386.2,30.6 L388.2,30.1 L390.2,29.7 L392.2,29.2 L394.2,28.7 L396.2,28.3 L398.2,27.8" fill="none" stroke="#ffa500" stroke-width="1.8"/>
<path d="M36.8,244.8 L38.8,238.0 L40.8,231.8 L42.8,226.1 L44.8,221.1 L46.8,216.6 L48.8,212.6 L50.9,209.0 L52.9,205.8 L54.9,202.7 L56.9,199.5 L58.9,196.3 L60.9,193.2 L62.9,190.2 L64.9,187.3 L66.9,184.6 L68.9,182.1 L70.9,179.6 L72.9,177.1 L74.9,174.8 L77.0,172.4 L79.0,170.1 L81.0,167.8 L83.0,165.6 L85.0,163.4 L87.0,161.2 L89.0,159.0 L91.0,156.7 L93.0,154.4 L95.0,152.1 L97.0,149.9 L99.0,147.9 L101.0,146.0 L103.1,144.2 L105.1,142.4 L107.1,140.7 L109.1,139.1 L111.1,137.5 L113.1,135.9 L115.1,134.3 L117.1,132.8 L119.1,131.3 L121.1,129.9 L123.1,128.4 L125.1,127.0 L127.1,125.7 L129.2,124.3 L131.2,123.0 L133.2,121.7 L135.2,120.4 L137.2,119.2 L139.2,118.0 L141.2,116.8 L143.2,115.7 L145.2,114.6 L147.2,113.5 L149.2,112.4 L151.2,111.4 L153.3,110.4 L155.3,109.4 L157.3,108.4 L159.3,107.4 L161.3,106.5 L163.3,105.5 L165.3,104.6 L167.3,103.7 L169.3,102.8 L171.3,101.9 L173.3,100.9 L175.3,100.0 L177.3,99.1 L179.4,98.2 L181.4,97.2 L183.4,96.3 L185.4,95.3 L187.4,94.4 L189.4,93.4 L191.4,92.5 L193.4,91.6 L195.4,90.7 L197.4,89.7 L199.4,88.8 L201.4,88.0 L203.4,87.1 L205.5,86.2 L207.5,85.4 L209.5,84.5 L211.5,83.7 L213.5,82.9 L215.5,82.2 L217.5,81.4 L219.5,80.6 L221.5,79.9 L223.5,79.1 L225.5,78.4 L227.5,77.6 L229.5,76.9 L231.6,76.1 L233.6,75.4 L235.6,74.6 L237.6,73.9 L239.6,73.1 L241.6,72.4 L243.6,71.6 L245.6,70.9 L247.6,70.1 L249.6,69.4 L251.6,68.7 L253.6,68.0 L255.6,67.2 L257.7,66.5 L259.7,65.9 L261.7,65.2 L263.7,64.5 L265.7,63.8 L267.7,63.2 L269.7,62.5 L271.7,61.9 L273.7,61.3 L275.7,60.7 L277.7,60.1 L279.7,59.5 L281.7,58.9 L283.8,58.3 L285.8,57.7 L287.8,57.1 L289.8,56.6 L291.8,56.0 L293.8,55.4 L295.8,54.9 L297.8,54.3 L299.8,53.8 L301.8,53.2 L303.8,52.6 L305.8,52.1 L307.9,51.5 L309.9,50.9 L311.9,50.4 L313.9,49.8 L315.9,49.2 L317.9,48.7 L319.9,48.1 L321.9,47.6 L323.9,47.0 L325.9,46.5 L327.9,46.0 L329.9,45.4 L331.9,44.9 L334.0,44.3 L336.0,43.8 L338.0,43.2 L340.0,42.7 L342.0,42.1 L344.0,41.6 L346.0,41.0 L348.0,40.5 L350.0,39.9 L352.0,39.3 L354.0,38.8 L356.0,38.2 L358.0,37.6 L360.1,37.1 L362.1,36.5 L364.1,36.0 L366.1,35.4 L368.1,34.9 L370.1,34.3 L372.1,33.8 L374.1,33.3 L376.1,32.8 L378.1,32.3 L380.1,31.8 L382.1,31.3 L384.1,30.8 L386.2,30.3 L388.2,29.8 L390.2,29.4 L392.2,28.9 L394.2,28.4 L396.2,28.0 L398.2,27.5" fill="none" stroke="#f00" stroke-width="1.9"/>
<path d="M37.5,238.9 L38.0,237.3 L38.5,235.7 L39.0,234.1 L39.5,232.5 M43.8,220.4 L44.4,218.8 L45.1,217.3 L45.8,215.8 L46.5,214.2 M52.7,203.2 L53.6,201.8 L54.5,200.4 L55.4,199.0 L56.3,197.5 M62.8,187.6 L63.7,186.3 L64.7,184.9 L65.7,183.6 L66.7,182.2 M72.9,174.6 L74.0,173.3 L75.1,172.1 L76.2,170.8 L77.3,169.5 M83.2,162.9 L84.4,161.7 L85.5,160.5 L86.6,159.3 L87.8,158.0 M96.6,148.2 L97.8,147.0 L99.0,145.8 L100.2,144.7 L101.5,143.5 M111.8,135.2 L113.2,134.2 L114.5,133.2 L115.9,132.3 L117.2,131.3 M128.1,123.9 L129.6,123.0 L131.0,122.2 L132.5,121.4 L133.9,120.5 M143.5,115.6 L145.0,114.8 L146.5,114.1 L148.0,113.4 L149.5,112.7 M159.3,108.4 L160.9,107.7 L162.4,107.1 L163.9,106.4 L165.5,105.8 M176.4,101.3 L178.0,100.6 L179.5,100.0 L181.0,99.3 L182.6,98.7 M193.3,94.2 L194.9,93.6 L196.4,92.9 L197.9,92.3 L199.5,91.6 M210.2,87.4 L211.7,86.8 L213.3,86.3 L214.9,85.7 L216.5,85.2 M228.0,81.2 L229.6,80.6 L231.2,80.1 L232.8,79.6 L234.4,79.0 M244.8,75.7 L246.4,75.2 L248.0,74.7 L249.6,74.2 L251.2,73.7 M262.4,70.5 L264.0,70.0 L265.6,69.6 L267.2,69.1 L268.8,68.6 M280.0,65.3 L281.6,64.8 L283.2,64.4 L284.8,63.9 L286.4,63.5 M297.8,60.4 L299.4,60.0 L301.0,59.6 L302.6,59.2 L304.3,58.8 M316.0,56.4 L317.7,56.1 L319.3,55.7 L320.9,55.3 L322.5,54.8 M334.0,51.4 L335.6,50.9 L337.2,50.5 L338.8,50.2 L340.5,49.8 M351.4,47.7 L353.1,47.4 L354.7,47.0 L356.3,46.6 L357.9,46.2 M369.2,43.2 L370.8,42.8 L372.4,42.3 L374.0,41.9 L375.6,41.5 M387.6,38.5 L389.3,38.1 L390.9,37.7 L392.5,37.3 L394.2,37.0" fill="none" stroke="#ff00ff" stroke-width="2"/>
</g>
<g clip-path="url(#cr)">
<path d="M36.8,291.6 H398.2" stroke="#383838" stroke-width="1.35"/>
<path d="M36.8,255.6 L38.8,256.9 L40.8,258.2 L42.8,259.5 L44.8,260.8 L46.8,262.1 L48.8,263.3 L50.9,264.0 L52.9,264.7 L54.9,265.3 L56.9,265.9 L58.9,266.5 L60.9,267.2 L62.9,267.8 L64.9,268.4 L66.9,268.9 L68.9,269.2 L70.9,269.6 L72.9,269.8 L74.9,270.1 L77.0,270.3 L79.0,270.6 L81.0,270.8 L83.0,271.0 L85.0,271.2 L87.0,271.3 L89.0,271.5 L91.0,271.7 L93.0,271.9 L95.0,272.1 L97.0,272.3 L99.0,272.5 L101.0,272.8 L103.1,273.0 L105.1,273.2 L107.1,273.5 L109.1,273.7 L111.1,273.9 L113.1,274.2 L115.1,274.4 L117.1,274.6 L119.1,274.8 L121.1,275.1 L123.1,275.3 L125.1,275.5 L127.1,275.7 L129.2,275.9 L131.2,276.1 L133.2,276.3 L135.2,276.6 L137.2,276.8 L139.2,277.0 L141.2,277.2 L143.2,277.4 L145.2,277.6 L147.2,277.8 L149.2,278.0 L151.2,278.2 L153.3,278.4 L155.3,278.6 L157.3,278.7 L159.3,278.9 L161.3,279.0 L163.3,279.2 L165.3,279.3 L167.3,279.5 L169.3,279.6 L171.3,279.7 L173.3,279.9 L175.3,280.0 L177.3,280.1 L179.4,280.2 L181.4,280.3 L183.4,280.4 L185.4,280.5 L187.4,280.6 L189.4,280.7 L191.4,280.8 L193.4,280.9 L195.4,281.0 L197.4,281.0 L199.4,281.1 L201.4,281.2 L203.4,281.3 L205.5,281.3 L207.5,281.4 L209.5,281.5 L211.5,281.5 L213.5,281.6 L215.5,281.6 L217.5,281.7 L219.5,281.7 L221.5,281.8 L223.5,281.8 L225.5,281.9 L227.5,281.9 L229.5,281.9 L231.6,282.0 L233.6,282.0 L235.6,282.0 L237.6,282.1 L239.6,282.1 L241.6,282.1 L243.6,282.2 L245.6,282.2 L247.6,282.2 L249.6,282.2 L251.6,282.3 L253.6,282.3 L255.6,282.3 L257.7,282.4 L259.7,282.4 L261.7,282.4 L263.7,282.5 L265.7,282.5 L267.7,282.5 L269.7,282.6 L271.7,282.6 L273.7,282.6 L275.7,282.7 L277.7,282.7 L279.7,282.7 L281.7,282.8 L283.8,282.8 L285.8,282.9 L287.8,282.9 L289.8,282.9 L291.8,283.0 L293.8,283.0 L295.8,283.0 L297.8,283.1 L299.8,283.1 L301.8,283.1 L303.8,283.2 L305.8,283.2 L307.9,283.2 L309.9,283.3 L311.9,283.3 L313.9,283.3 L315.9,283.4 L317.9,283.4 L319.9,283.4 L321.9,283.4 L323.9,283.5 L325.9,283.5 L327.9,283.5 L329.9,283.5 L331.9,283.5 L334.0,283.5 L336.0,283.6 L338.0,283.6 L340.0,283.6 L342.0,283.6 L344.0,283.6 L346.0,283.6 L348.0,283.7 L350.0,283.7 L352.0,283.7 L354.0,283.7 L356.0,283.7 L358.0,283.7 L360.1,283.7 L362.1,283.8 L364.1,283.8 L366.1,283.8 L368.1,283.8 L370.1,283.8 L372.1,283.8 L374.1,283.8 L376.1,283.8 L378.1,283.8 L380.1,283.9 L382.1,283.9 L384.1,283.9 L386.2,283.9 L388.2,283.9 L390.2,283.9 L392.2,283.9 L394.2,283.9 L396.2,283.9 L398.2,283.9" fill="none" stroke="#ffa500" stroke-width="1.6"/>
<path d="M36.8,249.2 L38.8,250.7 L40.8,252.2 L42.8,253.7 L44.8,255.1 L46.8,256.6 L48.8,258.0 L50.9,258.7 L52.9,259.4 L54.9,260.1 L56.9,260.7 L58.9,261.4 L60.9,262.1 L62.9,262.8 L64.9,263.5 L66.9,264.1 L68.9,264.6 L70.9,265.1 L72.9,265.6 L74.9,266.1 L77.0,266.6 L79.0,267.0 L81.0,267.4 L83.0,267.8 L85.0,268.3 L87.0,268.6 L89.0,269.0 L91.0,269.4 L93.0,269.8 L95.0,270.1 L97.0,270.5 L99.0,270.8 L101.0,271.2 L103.1,271.5 L105.1,271.9 L107.1,272.2 L109.1,272.5 L111.1,272.8 L113.1,273.1 L115.1,273.4 L117.1,273.7 L119.1,274.0 L121.1,274.3 L123.1,274.6 L125.1,274.8 L127.1,275.1 L129.2,275.4 L131.2,275.6 L133.2,275.9 L135.2,276.1 L137.2,276.4 L139.2,276.6 L141.2,276.9 L143.2,277.1 L145.2,277.3 L147.2,277.5 L149.2,277.7 L151.2,277.9 L153.3,278.1 L155.3,278.3 L157.3,278.4 L159.3,278.6 L161.3,278.7 L163.3,278.9 L165.3,279.0 L167.3,279.1 L169.3,279.3 L171.3,279.4 L173.3,279.5 L175.3,279.6 L177.3,279.8 L179.4,279.9 L181.4,280.0 L183.4,280.1 L185.4,280.2 L187.4,280.2 L189.4,280.3 L191.4,280.4 L193.4,280.5 L195.4,280.5 L197.4,280.6 L199.4,280.7 L201.4,280.7 L203.4,280.8 L205.5,280.9 L207.5,280.9 L209.5,281.0 L211.5,281.0 L213.5,281.1 L215.5,281.1 L217.5,281.2 L219.5,281.2 L221.5,281.3 L223.5,281.3 L225.5,281.4 L227.5,281.4 L229.5,281.4 L231.6,281.5 L233.6,281.5 L235.6,281.5 L237.6,281.6 L239.6,281.6 L241.6,281.6 L243.6,281.7 L245.6,281.7 L247.6,281.7 L249.6,281.7 L251.6,281.8 L253.6,281.8 L255.6,281.8 L257.7,281.9 L259.7,281.9 L261.7,281.9 L263.7,282.0 L265.7,282.0 L267.7,282.0 L269.7,282.1 L271.7,282.1 L273.7,282.1 L275.7,282.2 L277.7,282.2 L279.7,282.2 L281.7,282.3 L283.8,282.3 L285.8,282.4 L287.8,282.4 L289.8,282.4 L291.8,282.5 L293.8,282.5 L295.8,282.5 L297.8,282.6 L299.8,282.6 L301.8,282.6 L303.8,282.7 L305.8,282.7 L307.9,282.7 L309.9,282.8 L311.9,282.8 L313.9,282.8 L315.9,282.9 L317.9,282.9 L319.9,282.9 L321.9,282.9 L323.9,283.0 L325.9,283.0 L327.9,283.0 L329.9,283.0 L331.9,283.0 L334.0,283.0 L336.0,283.1 L338.0,283.1 L340.0,283.1 L342.0,283.1 L344.0,283.1 L346.0,283.1 L348.0,283.2 L350.0,283.2 L352.0,283.2 L354.0,283.2 L356.0,283.2 L358.0,283.2 L360.1,283.2 L362.1,283.3 L364.1,283.3 L366.1,283.3 L368.1,283.3 L370.1,283.3 L372.1,283.3 L374.1,283.3 L376.1,283.3 L378.1,283.3 L380.1,283.4 L382.1,283.4 L384.1,283.4 L386.2,283.4 L388.2,283.4 L390.2,283.4 L392.2,283.4 L394.2,283.4 L396.2,283.4 L398.2,283.4" fill="none" stroke="#f00" stroke-width="1.8"/>
</g>
<path d="M36.8,4.4 H398.2 V311.1 H36.8 Z M36.8,249.8 H398.2" fill="none" stroke="#1a1a1a" stroke-width="1.1"/>
<path d="M36.8,248.75 h7.2 M398.2,248.75 h-7.2 M36.8,238.26 h3.8 M398.2,238.26 h-3.8 M36.8,232.12 h3.8 M398.2,232.12 h-3.8 M36.8,227.77 h3.8 M398.2,227.77 h-3.8 M36.8,224.39 h3.8 M398.2,224.39 h-3.8 M36.8,221.63 h3.8 M398.2,221.63 h-3.8 M36.8,219.30 h3.8 M398.2,219.30 h-3.8 M36.8,217.28 h3.8 M398.2,217.28 h-3.8 M36.8,215.49 h3.8 M398.2,215.49 h-3.8 M36.8,213.90 h7.2 M398.2,213.90 h-7.2 M36.8,203.41 h3.8 M398.2,203.41 h-3.8 M36.8,197.27 h3.8 M398.2,197.27 h-3.8 M36.8,192.92 h3.8 M398.2,192.92 h-3.8 M36.8,189.54 h3.8 M398.2,189.54 h-3.8 M36.8,186.78 h3.8 M398.2,186.78 h-3.8 M36.8,184.45 h3.8 M398.2,184.45 h-3.8 M36.8,182.43 h3.8 M398.2,182.43 h-3.8 M36.8,180.64 h3.8 M398.2,180.64 h-3.8 M36.8,179.05 h7.2 M398.2,179.05 h-7.2 M36.8,168.56 h3.8 M398.2,168.56 h-3.8 M36.8,162.42 h3.8 M398.2,162.42 h-3.8 M36.8,158.07 h3.8 M398.2,158.07 h-3.8 M36.8,154.69 h3.8 M398.2,154.69 h-3.8 M36.8,151.93 h3.8 M398.2,151.93 h-3.8 M36.8,149.60 h3.8 M398.2,149.60 h-3.8 M36.8,147.58 h3.8 M398.2,147.58 h-3.8 M36.8,145.79 h3.8 M398.2,145.79 h-3.8 M36.8,144.20 h7.2 M398.2,144.20 h-7.2 M36.8,133.71 h3.8 M398.2,133.71 h-3.8 M36.8,127.57 h3.8 M398.2,127.57 h-3.8 M36.8,123.22 h3.8 M398.2,123.22 h-3.8 M36.8,119.84 h3.8 M398.2,119.84 h-3.8 M36.8,117.08 h3.8 M398.2,117.08 h-3.8 M36.8,114.75 h3.8 M398.2,114.75 h-3.8 M36.8,112.73 h3.8 M398.2,112.73 h-3.8 M36.8,110.94 h3.8 M398.2,110.94 h-3.8 M36.8,109.35 h7.2 M398.2,109.35 h-7.2 M36.8,98.86 h3.8 M398.2,98.86 h-3.8 M36.8,92.72 h3.8 M398.2,92.72 h-3.8 M36.8,88.37 h3.8 M398.2,88.37 h-3.8 M36.8,84.99 h3.8 M398.2,84.99 h-3.8 M36.8,82.23 h3.8 M398.2,82.23 h-3.8 M36.8,79.90 h3.8 M398.2,79.90 h-3.8 M36.8,77.88 h3.8 M398.2,77.88 h-3.8 M36.8,76.09 h3.8 M398.2,76.09 h-3.8 M36.8,74.50 h7.2 M398.2,74.50 h-7.2 M36.8,64.01 h3.8 M398.2,64.01 h-3.8 M36.8,57.87 h3.8 M398.2,57.87 h-3.8 M36.8,53.52 h3.8 M398.2,53.52 h-3.8 M36.8,50.14 h3.8 M398.2,50.14 h-3.8 M36.8,47.38 h3.8 M398.2,47.38 h-3.8 M36.8,45.05 h3.8 M398.2,45.05 h-3.8 M36.8,43.03 h3.8 M398.2,43.03 h-3.8 M36.8,41.24 h3.8 M398.2,41.24 h-3.8 M36.8,39.65 h7.2 M398.2,39.65 h-7.2 M36.8,29.16 h3.8 M398.2,29.16 h-3.8 M36.8,23.02 h3.8 M398.2,23.02 h-3.8 M36.8,18.67 h3.8 M398.2,18.67 h-3.8 M36.8,15.29 h3.8 M398.2,15.29 h-3.8 M36.8,12.53 h3.8 M398.2,12.53 h-3.8 M36.8,10.20 h3.8 M398.2,10.20 h-3.8 M36.8,8.18 h3.8 M398.2,8.18 h-3.8 M36.8,6.39 h3.8 M398.2,6.39 h-3.8 M36.8,4.80 h7.2 M398.2,4.80 h-7.2 M46.36,4.4 v3.8 M46.36,246.0 v7.6 M46.36,311.1 v-3.8 M58.85,4.4 v3.8 M58.85,246.0 v7.6 M58.85,311.1 v-3.8 M68.53,4.4 v3.8 M68.53,246.0 v7.6 M68.53,311.1 v-3.8 M76.44,4.4 v3.8 M76.44,246.0 v7.6 M76.44,311.1 v-3.8 M83.13,4.4 v3.8 M83.13,246.0 v7.6 M83.13,311.1 v-3.8 M88.92,4.4 v3.8 M88.92,246.0 v7.6 M88.92,311.1 v-3.8 M94.03,4.4 v3.8 M94.03,246.0 v7.6 M94.03,311.1 v-3.8 M98.60,4.4 v7.2 M98.60,242.60000000000002 v14.4 M98.60,311.1 v-7.2 M128.67,4.4 v3.8 M128.67,246.0 v7.6 M128.67,311.1 v-3.8 M146.26,4.4 v3.8 M146.26,246.0 v7.6 M146.26,311.1 v-3.8 M158.75,4.4 v3.8 M158.75,246.0 v7.6 M158.75,311.1 v-3.8 M168.43,4.4 v3.8 M168.43,246.0 v7.6 M168.43,311.1 v-3.8 M176.34,4.4 v3.8 M176.34,246.0 v7.6 M176.34,311.1 v-3.8 M183.03,4.4 v3.8 M183.03,246.0 v7.6 M183.03,311.1 v-3.8 M188.82,4.4 v3.8 M188.82,246.0 v7.6 M188.82,311.1 v-3.8 M193.93,4.4 v3.8 M193.93,246.0 v7.6 M193.93,311.1 v-3.8 M198.50,4.4 v7.2 M198.50,242.60000000000002 v14.4 M198.50,311.1 v-7.2 M228.57,4.4 v3.8 M228.57,246.0 v7.6 M228.57,311.1 v-3.8 M246.16,4.4 v3.8 M246.16,246.0 v7.6 M246.16,311.1 v-3.8 M258.65,4.4 v3.8 M258.65,246.0 v7.6 M258.65,311.1 v-3.8 M268.33,4.4 v3.8 M268.33,246.0 v7.6 M268.33,311.1 v-3.8 M276.24,4.4 v3.8 M276.24,246.0 v7.6 M276.24,311.1 v-3.8 M282.93,4.4 v3.8 M282.93,246.0 v7.6 M282.93,311.1 v-3.8 M288.72,4.4 v3.8 M288.72,246.0 v7.6 M288.72,311.1 v-3.8 M293.83,4.4 v3.8 M293.83,246.0 v7.6 M293.83,311.1 v-3.8 M298.40,4.4 v7.2 M298.40,242.60000000000002 v14.4 M298.40,311.1 v-7.2 M328.47,4.4 v3.8 M328.47,246.0 v7.6 M328.47,311.1 v-3.8 M346.06,4.4 v3.8 M346.06,246.0 v7.6 M346.06,311.1 v-3.8 M358.55,4.4 v3.8 M358.55,246.0 v7.6 M358.55,311.1 v-3.8 M368.23,4.4 v3.8 M368.23,246.0 v7.6 M368.23,311.1 v-3.8 M376.14,4.4 v3.8 M376.14,246.0 v7.6 M376.14,311.1 v-3.8 M382.83,4.4 v3.8 M382.83,246.0 v7.6 M382.83,311.1 v-3.8 M388.62,4.4 v3.8 M388.62,246.0 v7.6 M388.62,311.1 v-3.8 M393.73,4.4 v3.8 M393.73,246.0 v7.6 M393.73,311.1 v-3.8 M36.8,311.10 h7.2 M398.2,311.10 h-7.2 M36.8,301.33 h7.2 M398.2,301.33 h-7.2 M36.8,291.55 h7.2 M398.2,291.55 h-7.2 M36.8,281.78 h7.2 M398.2,281.78 h-7.2 M36.8,272.00 h7.2 M398.2,272.00 h-7.2 M36.8,262.23 h7.2 M398.2,262.23 h-7.2 M36.8,252.45 h7.2 M398.2,252.45 h-7.2" fill="none" stroke="#222" stroke-width="0.85"/>
<g class="tx">
<text class="s" x="33.5" y="251.2" font-size="10.0" letter-spacing="0.05" text-anchor="end">10<tspan dy="-3.5" font-size="7.8" letter-spacing="0">-2</tspan></text>
<text class="s" x="33.5" y="217.7" font-size="10.0" letter-spacing="0.05" text-anchor="end">10<tspan dy="-3.5" font-size="7.8" letter-spacing="0">-1</tspan></text>
<text class="s" x="33.5" y="182.9" font-size="10.0" letter-spacing="0.05" text-anchor="end">10<tspan dy="-3.5" font-size="7.8" letter-spacing="0">0</tspan></text>
<text class="s" x="33.5" y="148.0" font-size="10.0" letter-spacing="0.05" text-anchor="end">10<tspan dy="-3.5" font-size="7.8" letter-spacing="0">1</tspan></text>
<text class="s" x="33.5" y="113.1" font-size="10.0" letter-spacing="0.05" text-anchor="end">10<tspan dy="-3.5" font-size="7.8" letter-spacing="0">2</tspan></text>
<text class="s" x="33.5" y="78.3" font-size="10.0" letter-spacing="0.05" text-anchor="end">10<tspan dy="-3.5" font-size="7.8" letter-spacing="0">3</tspan></text>
<text class="s" x="33.5" y="43.4" font-size="10.0" letter-spacing="0.05" text-anchor="end">10<tspan dy="-3.5" font-size="7.8" letter-spacing="0">4</tspan></text>
<text class="s" x="33.5" y="8.6" font-size="10.0" letter-spacing="0.05" text-anchor="end">10<tspan dy="-3.5" font-size="7.8" letter-spacing="0">5</tspan></text>
<text class="s" x="32.3" y="314.4" font-size="9.4" text-anchor="end">0.0</text>
<text class="s" x="32.3" y="304.6" font-size="9.4" text-anchor="end">0.5</text>
<text class="s" x="32.3" y="294.8" font-size="9.4" text-anchor="end">1.0</text>
<text class="s" x="32.3" y="285.0" font-size="9.4" text-anchor="end">1.5</text>
<text class="s" x="32.3" y="275.2" font-size="9.4" text-anchor="end">2.0</text>
<text class="s" x="32.3" y="265.5" font-size="9.4" text-anchor="end">2.5</text>
<text class="s" x="32.3" y="255.7" font-size="9.4" text-anchor="end">3.0</text>
<text class="s" x="98.9" y="323.0" font-size="9.5" letter-spacing="0.25" text-anchor="middle">10<tspan dy="-3.5" font-size="7.4" letter-spacing="0">2</tspan></text>
<text class="s" x="198.8" y="323.0" font-size="9.5" letter-spacing="0.25" text-anchor="middle">10<tspan dy="-3.5" font-size="7.4" letter-spacing="0">3</tspan></text>
<text class="s" x="298.7" y="323.0" font-size="9.5" letter-spacing="0.25" text-anchor="middle">10<tspan dy="-3.5" font-size="7.4" letter-spacing="0">4</tspan></text>
<text class="s" x="398.6" y="323.0" font-size="9.5" letter-spacing="0.25" text-anchor="middle">10<tspan dy="-3.5" font-size="7.4" letter-spacing="0">5</tspan></text>
<text x="217" y="335.5" font-size="11.2" text-anchor="middle">√s [GeV]</text>
<text transform="translate(12.6,126) rotate(-90)" font-size="11.2" text-anchor="middle">σ<tspan dy="-3.6" font-size="8.8">[</tspan><tspan dy="-3" font-size="6.8">1</tspan><tspan dy="3" font-size="8.8">S</tspan><tspan dy="1.6" font-size="6.8">0</tspan><tspan dy="-1.6" font-size="8.8">]</tspan><tspan dy="3.6"> [nb]</tspan></text>
<text transform="translate(12.5,281) rotate(-90)" font-size="11.2" text-anchor="middle">K-factor</text>
<text x="46.5" y="22.7" font-size="13.4" letter-spacing="-0.51">CT18NLO, NLO+HEF, M=9.4 GeV</text>
<text x="46.5" y="36.7" font-size="13.4" letter-spacing="-0.51">InEW vs. subtractive matching,</text>
<text x="46.5" y="50.0" font-size="13.4" letter-spacing="-0.51"><tspan dy="-5.2" font-size="10.6" letter-spacing="-0.34">1</tspan><tspan dy="5.2">S</tspan><tspan dy="2.6" font-size="10.6" letter-spacing="-0.34">0</tspan><tspan dy="-7.8" font-size="10.6" letter-spacing="-0.34">(1)</tspan><tspan dy="5.2">-state</tspan></text>
<text class="s" x="46.6" y="59.4" font-size="8.4" textLength="79.6" lengthAdjust="spacing">channels: gg+qg+gq</text>
<text class="s" font-size="8.4"><tspan x="127.2" y="59.4" font-size="8.4">+</tspan><tspan x="132.2" y="59.4" font-size="8.4">q</tspan><tspan x="136.6" y="60.9" font-size="5.8">i</tspan><tspan x="139.1" y="59.4" font-size="8.4">q</tspan><tspan x="143.5" y="60.9" font-size="5.8">i</tspan><tspan x="146.4" y="59.4" font-size="8.4">+</tspan><tspan x="151.4" y="59.4" font-size="8.4">q</tspan><tspan x="155.7" y="60.9" font-size="5.8">i</tspan><tspan x="157.9" y="59.4" font-size="8.4">q</tspan><tspan x="162.0" y="60.9" font-size="5.8">j</tspan><tspan x="165.6" y="59.4" font-size="8.4">+</tspan><tspan x="170.5" y="59.4" font-size="8.4">q</tspan><tspan x="174.8" y="60.9" font-size="5.8">i</tspan><tspan x="176.9" y="59.4" font-size="8.4">q</tspan><tspan x="181.6" y="60.9" font-size="5.8">j</tspan></text>
<path d="M139.2,53.5 h4.2 M177,53.5 h4.2" stroke="#222" stroke-width="0.8" fill="none"/>
<text x="355.3" y="167.70000000000002" font-size="10.2" letter-spacing="-0.47" text-anchor="end">LO, μ<tspan dy="2" font-size="8.2" letter-spacing="-0.47">F,R</tspan><tspan dy="-2"> 5pt. var.</tspan></text>
<text x="355.3" y="178.8" font-size="10.2" letter-spacing="-0.47" text-anchor="end">LO+NLO+HEF subtr. matching, μ<tspan dy="2" font-size="8.2" letter-spacing="-0.47">F,R</tspan><tspan dy="-2"> 5pt. var.</tspan></text>
<text x="355.3" y="189.8" font-size="10.2" letter-spacing="-0.47" text-anchor="end">LO+NLO+HEF InEW matching, μ<tspan dy="2" font-size="8.2" letter-spacing="-0.47">F,R</tspan><tspan dy="-2"> 5pt. var.</tspan></text>
<text x="355.3" y="200.3" font-size="10.2" letter-spacing="-0.47" text-anchor="end">InEW matching uncertainty</text>
<text x="355.3" y="211.70000000000002" font-size="10.2" letter-spacing="-0.47" text-anchor="end">LO</text>
<text x="355.3" y="222.5" font-size="10.2" letter-spacing="-0.47" text-anchor="end">LO+NLO+HEF, subtr. matching</text>
<text x="355.3" y="233.5" font-size="10.2" letter-spacing="-0.47" text-anchor="end">LO+NLO+HEF, InEW matching</text>
<text x="355.3" y="244.5" font-size="10.2" letter-spacing="-0.47" text-anchor="end">LO+NLO, μ<tspan dy="2" font-size="8.2" letter-spacing="-0.47">F</tspan><tspan dy="-2">=e</tspan><tspan dy="-3.6" font-size="8.2" letter-spacing="-0.47">-1/2</tspan><tspan dy="3.6">M, μ<tspan dy="2" font-size="8.2" letter-spacing="-0.47">R</tspan><tspan dy="-2">=M</tspan></text>
</g>
<clipPath id="l1"><rect x="361.5" y="172.75" width="25.80000000000001" height="5.5"/></clipPath>
<clipPath id="l2"><rect x="361.5" y="183.75" width="25.80000000000001" height="5.5"/></clipPath>
<rect x="361.5" y="161.65" width="25.80000000000001" height="5.5" fill="#cacaca" stroke="#787878" stroke-width="0.9"/>
<g clip-path="url(#l1)"><use href="#ho"/></g>
<rect x="361.5" y="172.75" width="25.80000000000001" height="5.5" fill="none" stroke="#ffa500" stroke-width="0.9"/>
<g clip-path="url(#l2)"><use href="#hr"/></g>
<rect x="361.5" y="183.75" width="25.80000000000001" height="5.5" fill="none" stroke="#ff2a2a" stroke-width="0.9"/>
<rect x="361.5" y="194.25" width="25.80000000000001" height="5.5" fill="#aaf2aa" stroke="#48e048" stroke-width="0.9"/>
<path d="M361.5,208.4 H387.3" stroke="#333" stroke-width="1.4"/>
<path d="M361.5,219.2 H387.3" stroke="#ffa500" stroke-width="1.6"/>
<path d="M361.5,230.2 H387.3" stroke="#f00" stroke-width="1.8"/>
<path d="M361.5,241.2 H387.3" stroke="#ff00ff" stroke-width="1.9" stroke-dasharray="8.4,9.6"/>
</svg></body></html>
